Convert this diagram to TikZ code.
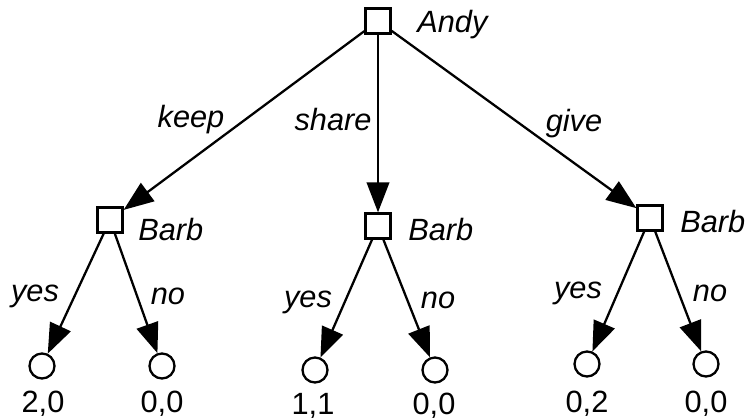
\documentclass[tikz,border=0pt]{standalone}
\usepackage{fontspec}
\setmainfont{Liberation Sans}
\usetikzlibrary{arrows.meta}
\tikzset{
    player/.style={draw,rectangle,minimum size=0.5cm,inner sep=0pt,line width=1.3pt},
    leaf/.style={draw,circle,minimum size=0.5cm,inner sep=0pt,line width=1.3pt},
    move/.style={-{Triangle[length=0.6cm,width=0.45cm]},line width=1.3pt},
    lbl/.style={inner sep=0pt,font=\fontsize{17.5}{20}\selectfont\itshape},
    pay/.style={inner sep=0pt,font=\fontsize{17.5}{20}\selectfont}
}
\begin{document}
\begin{tikzpicture}[x=0.02cm,y=-0.02cm]
        \useasboundingbox (0,0) rectangle (750,419);
        \node[player] (andy) at (378,21) {};
        \node[player] (barbL) at (110,220) {};
        \node[player] (barbM) at (378,226) {};
        \node[player] (barbR) at (650,218) {};
        \node[leaf] (lyes) at (42,366) {};
        \node[leaf] (lno) at (162,366) {};
        \node[leaf] (myes) at (315,370) {};
        \node[leaf] (mno) at (435,370) {};
        \node[leaf] (ryes) at (587,364) {};
        \node[leaf] (rno) at (706,364) {};
        \draw[move] (andy) -- (barbL);
        \draw[move] (andy) -- (barbM);
        \draw[move] (andy) -- (barbR);
        \draw[move] (barbL) -- (lyes);
        \draw[move] (barbL) -- (lno);
        \draw[move] (barbM) -- (myes);
        \draw[move] (barbM) -- (mno);
        \draw[move] (barbR) -- (ryes);
        \draw[move] (barbR) -- (rno);
        \node[lbl,anchor=base west] (andyname) at (417,32) {Andy};
        \node[lbl,anchor=base west] (barbLname) at (138,240) {Barb};
        \node[lbl,anchor=base west] (barbMname) at (408,240) {Barb};
        \node[lbl,anchor=base west] (barbRname) at (680,232) {Barb};
        \node[lbl] (keep) at (191,120) {keep};
        \node[lbl] (share) at (333,120) {share};
        \node[lbl] (give) at (574,124) {give};
        \node[lbl] (lyeslbl) at (35,296) {yes};
        \node[lbl] (lnolbl) at (168,296) {no};
        \node[lbl] (myeslbl) at (308,302) {yes};
        \node[lbl] (mnolbl) at (438,300) {no};
        \node[lbl] (ryeslbl) at (578,293) {yes};
        \node[lbl] (rnolbl) at (710,293) {no};
        \node[pay] (lyespay) at (43,404) {2,0};
        \node[pay] (lnopay) at (162,404) {0,0};
        \node[pay] (myespay) at (313,406) {1,1};
        \node[pay] (mnopay) at (434,406) {0,0};
        \node[pay] (ryespay) at (587,404) {0,2};
        \node[pay] (rnopay) at (706,404) {0,0};
    \end{tikzpicture}
\end{document}
